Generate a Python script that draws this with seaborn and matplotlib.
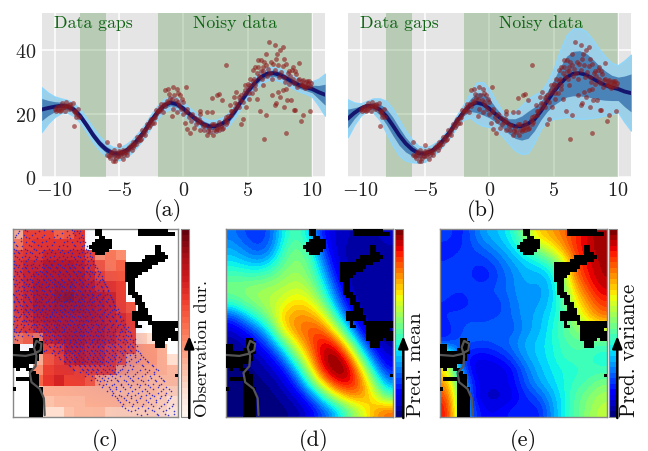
import matplotlib
matplotlib.use("Agg")
import matplotlib.pyplot as plt
import numpy as np
import pandas as pd
import seaborn as sns
from matplotlib.cm import ScalarMappable
from matplotlib.colors import LinearSegmentedColormap, ListedColormap, Normalize

# ---------- data ----------
grid_x = [-11, -10.5, -10, -9.5, -9, -8.5, -8, -7.5, -7, -6.5, -6, -5.5, -5, -4.5, -4, -3.5, -3, -2.5, -2, -1.5, -1, -.5,
          0, .5, 1, 1.5, 2, 2.5, 3, 3.5, 4, 4.5, 5, 5.5, 6, 6.5, 7, 7.5, 8, 8.5, 9, 9.5, 10, 10.5, 11]
mean_a = [21.3, 21.8, 22.2, 22.5, 22.3, 21.3, 19.2, 16.3, 13.2, 10.6, 8.7, 7.5, 7.3, 8.2, 9.7, 12, 14.6, 17.8, 20.5, 22.6, 23.5, 23,
          21.6, 19.8, 18.2, 16.8, 16, 16, 16.8, 18.2, 20.8, 24, 27, 29.5, 31.5, 32.6, 32.8, 32.3, 31.2, 30, 29, 28.3, 27.8, 26.8, 26]
sd2_a = [7, 4.8, 3.2, 2.3, 2, 2, 2.1, 2.2, 2.3, 2.2, 2.1, 2, 2, 2, 2, 2, 2, 2, 2, 2, 2, 2,
         2, 2, 2, 2, 2, 2, 2, 2, 2, 2, 2, 2, 2, 2, 2, 2, 2, 2, 2, 2, 2.4, 4.2, 6.6]
mean_b = [18.4, 20.2, 21.6, 22.5, 22.3, 21.3, 19.2, 16.3, 13.2, 10.6, 8.7, 7.5, 7.3, 8.2, 9.7, 12, 14.6, 17.8, 20.5, 22.6, 23.5, 23,
          21.6, 19.8, 18.2, 16.8, 16, 16, 16.8, 18.2, 20.8, 24, 27, 29.5, 31.5, 32.6, 32.8, 32.3, 31.2, 30, 29, 28.3, 27.8, 27, 26.5]
upper_b = [24.5, 23.5, 23.2, 24, 24.8, 24.8, 24, 21.5, 18, 14.5, 11.8, 9.8, 9.3, 10, 11.3, 13.6, 16.3, 19.6, 22.8, 26.5, 29.8, 30,
           27.8, 24, 20.8, 20, 20.8, 22.5, 24.7, 26, 27, 30, 34.2, 40, 44.8, 46.8, 47, 46, 43.5, 40.5, 38, 36, 35.3, 36.8, 38.6]
lower_b = [12.6, 16.5, 19.4, 20.8, 20.3, 18, 14, 10, 6.8, 5.2, 4.7, 4.5, 4.8, 6.4, 8, 10.3, 12.9, 16, 18.2, 18.8, 17.2, 16.2,
           15.8, 14.8, 13, 10.6, 8.4, 7.3, 7.6, 11, 15.3, 17.5, 18.4, 18.6, 19, 18.7, 18.4, 18.5, 18.7, 19, 19.5, 20, 20.5, 17.4, 14.7]

points_left = [(-10, 21.5), (-9.9, 21), (-9.8, 22), (-9.7, 21.3), (-9.6, 22.3), (-9.5, 21.2), (-9.4, 23.5), (-9.3, 22), (-9.2, 20.8),
               (-9.1, 23.8), (-9, 22.5), (-8.9, 21.5), (-8.8, 23), (-8.7, 22), (-8.6, 23.4), (-8.5, 21), (-8.4, 20.5), (-8.3, 20),
               (-8.3, 19), (-8.5, 16.2), (-8.2, 21.6), (-8.1, 19), (-9.4, 21.8), (-9.6, 21), (-9.2, 22.4), (-8.9, 22.8)]
points_mid = [(-5.9, 11), (-5.9, 7), (-5.8, 6.5), (-5.7, 6), (-5.6, 8), (-5.5, 5), (-5.4, 6.5), (-5.4, 8.5), (-5.3, 5), (-5.2, 7.5),
              (-5.1, 6.5), (-5, 8.2), (-5, 10), (-4.9, 6.5), (-4.8, 7.5), (-4.7, 5.7), (-4.6, 7), (-4.5, 8), (-4.4, 7), (-4.3, 9),
              (-4.2, 9.5), (-4, 8.5), (-3.9, 11), (-3.8, 10), (-3.7, 10.3), (-3.5, 11.5), (-3.4, 13), (-3.3, 12), (-3.1, 13.5),
              (-3, 14.5), (-2.9, 15.5), (-2.7, 15.7), (-2.6, 16.5), (-2.4, 17), (-2.3, 18.5), (-2.2, 19), (-2.1, 19.8), (-2, 20.7),
              (-5.6, 7.2), (-5.2, 6), (-4.7, 8.4), (-4.1, 10.2), (-3.6, 12.6), (-3.2, 14.8), (-2.8, 16.8), (-2.5, 18.2),
              (-4.9, 7.9), (-4.4, 8), (-3.9, 9.4), (-3.4, 11.6), (-3, 13.4), (-2.6, 17.6), (-2.3, 17.2), (-2.1, 21.2)]
points_noisy = [(-1.9, 21), (-1.8, 22), (-1.7, 21.5), (-1.6, 20.5), (-1.5, 23), (-1.4, 22.5), (-1.3, 24), (-1.4, 27.4), (-1.2, 27.7),
                (-.8, 28.4), (-.5, 27.7), (-.25, 25.8), (.2, 28.4), (-.1, 24.7), (-.8, 21.6), (-.9, 19.3), (-.5, 20.5), (0, 20),
                (.1, 17.2), (.3, 15.3), (.5, 14), (.8, 15.5), (1.3, 21), (1.3, 20), (1.8, 20.5), (2.2, 20.5), (2.2, 25), (2.6, 26),
                (2.8, 26.3), (3, 24.2), (3.3, 35.5), (1, 16.8), (1.3, 14.7), (1.8, 13.4), (2.3, 13.4), (2.8, 14.7), (3.3, 16.8),
                (3.7, 19.5), (4.1, 26.8), (3.9, 25.3), (3.6, 22.6), (4.6, 18.2), (4.5, 16.8), (4.9, 22),
                (-1.1, 26.3), (-1, 24.9), (-.7, 26), (-.6, 24.2), (-.4, 26.4), (-.3, 22.8), (0, 23.6), (.2, 20.4), (.4, 19),
                (.6, 17.6), (.9, 18.6), (1.1, 17.4), (1.5, 16.2), (1.6, 15), (1.9, 14.6), (2, 15.6), (2.1, 14.2), (2.4, 15),
                (2.5, 14.4), (2.7, 15.7), (2.9, 16.2), (3.1, 15.4), (3.2, 18), (3.4, 17.4), (3.5, 19.2), (3.8, 20.8), (4, 21.7),
                (4.2, 23.2), (4.3, 22.2), (4.4, 24.4), (4.6, 23.8), (4.7, 26.4), (4.8, 27.6), (5, 28.2), (5.1, 26.6), (5.2, 29),
                (6.65, 42.6), (7.1, 41.6), (7.7, 41), (7.5, 40), (7.3, 39), (6.4, 39), (5.8, 36.8), (6, 36.8), (6.3, 36.3), (6.8, 36.3),
                (7.2, 37.4), (7.85, 37.4), (7.35, 35.3), (8, 35.8), (8.95, 36.1), (5.55, 34.7), (5.8, 34.7), (6.2, 34.7), (6.6, 34.2),
                (7, 35.8), (5.4, 33.7), (8.5, 34.7), (8.4, 33.7), (8.75, 32.6), (9, 31), (9.3, 30.5), (8.5, 31), (8.2, 29.5),
                (6.25, 12.1), (7.95, 14), (9.1, 17.6), (9.3, 19.5), (9.85, 21), (8.7, 21.3), (8.6, 21.3), (7.85, 22.1), (8.35, 24.4),
                (8.05, 24.2), (7.1, 22.8), (7.2, 23.5), (7.5, 25.3), (6.85, 25.8), (7.35, 26.8), (7.75, 27.4), (5.95, 20.7), (6.45, 19.5),
                (5.7, 24.7), (5.3, 26.6), (5.1, 24.7), (5.6, 29.2), (5.5, 31), (5.9, 32), (6.1, 31), (6.2, 33.5), (6.5, 32),
                (6.9, 31), (7.1, 33.8), (7.6, 33.2), (7.8, 31.6), (8.1, 32.8), (8.6, 29.8), (8.9, 30.6), (9.1, 29.4), (9.2, 30.2),
                (9.4, 29.2), (9.5, 30), (9.6, 28.6), (9.7, 29.7), (9.8, 28.8), (9.9, 29.8), (9.75, 30.2), (9.45, 28.2),
                (5.6, 27.8), (6.2, 29), (7.9, 30), (8, 27.8), (8.8, 28.4),
                (-1.7, 23), (-1.2, 23.6), (-.9, 24.6), (-.4, 23.8), (-.2, 21.4), (.3, 21.6), (.7, 20), (1.2, 18.2), (1.4, 17.5),
                (1.7, 16.4), (2.2, 16.8), (2.4, 16.6), (2.6, 15.2), (2.8, 17.4), (3, 15.2), (3.3, 19), (3.7, 21), (4, 23.4), (4.3, 25.4),
                (4.5, 25.8), (4.8, 29), (5, 29.4), (5.2, 31), (5.4, 30.2), (5.7, 33), (6, 33.6), (6.4, 35.5), (6.7, 33), (7.4, 31.6),
                (7.7, 35), (8.2, 33.6), (8.3, 31.8), (8.7, 33.5), (9.2, 29), (9.6, 30.4), (9.3, 28.6)]

cell_vals = [
    [.30, .60, .62, .62, .50, .55, .65, 0, 0, 0, 0, 0, 0, 0, 0, 0],
    [.45, .60, .65, .65, .65, .65, .65, 0, 0, 0, 0, 0, 0, 0, 0, 0],
    [.62, .65, .65, .70, .70, .70, .70, .60, .40, .45, .40, 0, 0, 0, 0, 0],
    [.65, .70, .70, .75, .75, .75, .72, .68, .55, .45, .50, 0, 0, 0, 0, 0],
    [.65, .70, .72, .75, .78, .78, .75, .70, .60, .55, .55, 0, 0, 0, 0, 0],
    [.65, .70, .75, .78, .80, .80, .78, .72, .68, .65, .60, 0, 0, 0, 0, 0],
    [.65, .70, .75, .78, .82, .85, .80, .75, .72, .70, .62, 0, 0, 0, 0, 0],
    [.65, .70, .75, .78, .80, .80, .80, .75, .72, .70, .60, .55, 0, 0, 0, 0],
    [.62, .68, .72, .75, .78, .78, .78, .75, .72, .70, .68, .60, 0, 0, 0, 0],
    [.60, .65, .70, .72, .75, .75, .75, .72, .72, .70, .68, .62, 0, 0, 0, 0],
    [.45, .50, .45, .70, .72, .75, .75, .72, .72, .70, .65, .60, .20, .15, 0, 0],
    [0, 0, .30, .60, .65, .72, .72, .70, .70, .65, .60, .58, .35, .35, .30, 0],
    [0, 0, .30, .55, .62, .70, .72, .70, .70, .65, .58, .35, .35, .35, .30, .15],
    [0, 0, .40, .60, .65, .65, .62, .60, .60, .60, .35, .32, .32, .32, .30, .28],
    [0, 0, .50, .65, .70, .60, .60, .55, .35, .30, .30, .30, .30, .28, .28, .25],
    [0, 0, .20, .30, .30, .30, .30, .30, .30, .30, .28, .28, .25, .25, .22, .20],
    [0, 0, .20, .22, .25, .25, .25, .30, .30, .30, .30, .28, .25, .22, .20, .15],
    [0, 0, 0, .15, .15, .22, .25, .25, .25, .20, .20, .20, .20, .20, .18, .10],
]

mean_field = [
    [.25, .20, .17, .22, .38, .45, .35, .15, .08, .06, .05, .05, .08],
    [.30, .25, .20, .25, .42, .50, .42, .20, .08, .05, .04, .04, .05],
    [.36, .33, .30, .35, .47, .52, .47, .28, .10, .05, .04, .03, .04],
    [.45, .44, .44, .47, .52, .55, .50, .35, .15, .05, .03, .03, .03],
    [.50, .52, .54, .55, .57, .60, .56, .42, .22, .07, .03, .03, .03],
    [.42, .48, .53, .57, .62, .68, .65, .52, .30, .12, .04, .03, .03],
    [.20, .32, .42, .54, .70, .75, .75, .66, .44, .20, .06, .03, .03],
    [.08, .15, .25, .40, .66, .77, .82, .82, .62, .36, .12, .05, .03],
    [.03, .06, .13, .25, .44, .66, .80, .92, .87, .58, .28, .10, .04],
    [.02, .03, .06, .13, .27, .50, .72, .94, 1.0, .84, .47, .20, .08],
    [.01, .02, .03, .07, .14, .32, .58, .88, 1.0, .97, .70, .36, .15],
    [.01, .01, .02, .03, .08, .18, .40, .65, .87, .92, .80, .54, .28],
    [.01, .01, .01, .02, .04, .09, .20, .38, .58, .72, .76, .66, .46],
    [.01, .01, .01, .01, .02, .04, .10, .20, .30, .46, .58, .72, .80],
]

variance_field = [
    [.20, .15, .22, .30, .32, .38, .50, .68, .72, .78, .85, .92, .97],
    [.15, .17, .20, .23, .28, .33, .40, .50, .60, .72, .85, .92, .97],
    [.18, .20, .18, .18, .22, .28, .33, .36, .42, .55, .80, .90, .95],
    [.20, .20, .17, .14, .20, .25, .30, .30, .32, .50, .78, .88, .95],
    [.20, .18, .20, .20, .22, .25, .30, .28, .30, .45, .70, .82, .92],
    [.17, .14, .18, .20, .18, .24, .28, .28, .32, .42, .62, .75, .85],
    [.18, .20, .20, .18, .20, .23, .28, .30, .35, .42, .55, .68, .78],
    [.15, .20, .22, .23, .25, .20, .27, .30, .36, .45, .50, .55, .58],
    [.17, .22, .22, .20, .22, .25, .30, .33, .37, .42, .46, .45, .45],
    [.60, .20, .12, .12, .15, .20, .28, .33, .36, .42, .43, .42, .38],
    [.68, .30, .10, .08, .08, .12, .22, .30, .35, .38, .40, .42, .42],
    [.75, .45, .15, .10, .10, .12, .20, .28, .33, .38, .42, .45, .50],
    [.85, .50, .15, .07, .07, .09, .16, .20, .28, .36, .45, .50, .55],
    [.90, .52, .20, .12, .12, .16, .18, .14, .25, .36, .45, .52, .58],
]

# black terrain: row index -> (first column, end column) on a 50 x 57 cell map
terrain_runs = {
    0: [(25, 27), (38, 47)], 1: [(25, 27), (38, 49)], 2: [(26, 28)], 3: [(25, 30)], 4: [(24, 30)],
    5: [(23, 30), (43, 45)], 6: [(24, 29), (43, 45)], 7: [(25, 28), (43, 46)], 8: [(40, 47)], 9: [(39, 46)],
    10: [(34, 44)], 11: [(34, 42)], 12: [(34, 41)], 13: [(34, 39)], 14: [(34, 38)], 15: [(34, 37)],
    16: [(35, 37)], 17: [(35, 37)], 18: [(35, 37)], 19: [(35, 38)], 20: [(36, 39)], 21: [(37, 39)],
    22: [(37, 40)], 23: [(38, 40)], 24: [(38, 41)], 25: [(36, 41)], 26: [(36, 42)], 27: [(36, 42)],
    28: [(37, 38), (41, 50)], 29: [(37, 39), (42, 50)], 30: [(42, 49)], 31: [(42, 50)], 32: [(42, 50)],
    33: [(6, 8), (42, 47), (48, 50)], 34: [(6, 9), (43, 46)], 35: [(0, 2), (6, 9), (43, 46)], 36: [(0, 2), (5, 9)],
    37: [(0, 9)], 38: [(0, 8)], 39: [(0, 8)], 40: [(0, 7)], 41: [(0, 5)], 42: [(1, 2), (4, 6)], 43: [(5, 7)],
    44: [(5, 8), (49, 50)], 45: [(1, 8)], 46: [(5, 8)], 47: [(5, 8)], 48: [(0, 1), (5, 9)], 49: [(5, 9)],
    50: [(5, 9)], 51: [(5, 9)], 52: [(5, 9)], 53: [(5, 9)], 54: [(5, 9)], 55: [(5, 9)], 56: [(5, 9)],
}
river_x = [0, 8, 13, 17, 17.5, 14.5, 13, 14.5, 14, 10.5, 11.5, 16.5, 19, 19.5]
river_y = [67, 67.5, 66.5, 64.5, 61, 59.5, 63, 67.5, 73, 76.5, 81.5, 85, 90, 99]

# observation locations in panel (c), percent of panel width, by percent of panel height.
# The real cloud is far too dense to read dot by dot, so these are a thinner hand-estimated sample,
# and obs_density (read by eye) tints the areas where the dots merge together.
obs_rows = {
    1: [4, 9, 16, 24, 33, 37, 39, 41], 3: [2, 7, 12, 19, 27, 34, 38, 42], 5: [5, 10, 15, 22, 29, 35, 40, 43],
    7: [1, 8, 13, 18, 25, 31, 36, 41, 44], 9: [3, 6, 11, 17, 21, 28, 33, 38, 42, 45],
    11: [2, 5, 9, 14, 19, 24, 30, 35, 39, 43, 46], 13: [1, 4, 8, 12, 16, 21, 26, 31, 36, 40, 44, 47],
    15: [3, 6, 10, 15, 18, 23, 28, 33, 37, 41, 45, 48], 17: [1, 5, 8, 13, 17, 22, 25, 30, 34, 39, 42, 46, 49],
    19: [2, 4, 9, 11, 16, 20, 24, 29, 32, 36, 40, 44, 47, 50], 21: [1, 6, 8, 12, 15, 19, 23, 27, 31, 35, 38, 43, 46, 51],
    23: [3, 5, 10, 14, 18, 21, 26, 29, 33, 37, 41, 45, 48, 50, 53], 25: [1, 4, 7, 11, 13, 17, 20, 24, 28, 32, 35, 39, 42, 47, 52, 54],
    27: [2, 6, 9, 12, 16, 19, 23, 26, 30, 34, 37, 41, 44, 49, 53, 55], 29: [1, 3, 8, 10, 14, 18, 22, 25, 29, 33, 36, 40, 43, 46, 51, 56],
    31: [4, 7, 11, 13, 17, 20, 24, 28, 31, 35, 38, 42, 45, 48, 54, 57], 33: [2, 5, 9, 12, 15, 19, 23, 27, 30, 34, 37, 41, 44, 47, 50, 55, 58],
    35: [1, 6, 8, 13, 16, 21, 25, 29, 32, 36, 39, 43, 46, 49, 52, 56, 59], 37: [3, 5, 10, 14, 18, 22, 26, 28, 33, 35, 40, 42, 47, 51, 54, 58, 60],
    39: [1, 4, 7, 11, 15, 17, 20, 24, 27, 31, 34, 38, 41, 45, 48, 53, 57, 61], 41: [2, 6, 9, 13, 16, 19, 23, 26, 30, 33, 37, 40, 44, 50, 55, 59, 62],
    43: [1, 3, 8, 12, 14, 18, 22, 25, 29, 32, 36, 39, 43, 46, 49, 52, 56, 60, 63], 45: [5, 7, 10, 15, 17, 21, 24, 28, 31, 35, 38, 42, 47, 51, 54, 58, 62, 64],
    47: [2, 4, 9, 13, 16, 20, 23, 27, 30, 34, 37, 41, 44, 48, 53, 57, 61, 65], 49: [1, 6, 8, 11, 15, 19, 22, 26, 29, 33, 36, 40, 43, 46, 50, 55, 59, 63, 66],
    51: [3, 7, 12, 14, 18, 21, 25, 28, 32, 35, 39, 42, 45, 49, 52, 56, 60, 64, 67], 53: [1, 5, 10, 13, 17, 20, 24, 27, 31, 34, 38, 41, 44, 47, 51, 54, 58, 62, 66, 69],
    55: [2, 4, 8, 16, 19, 23, 26, 30, 33, 37, 40, 43, 46, 50, 53, 57, 61, 65, 68, 71], 57: [1, 6, 12, 18, 22, 25, 29, 32, 36, 39, 42, 45, 49, 52, 55, 59, 63, 67, 70, 72],
    59: [3, 20, 24, 28, 31, 35, 38, 41, 44, 48, 51, 54, 58, 61, 65, 69, 73], 61: [1, 18, 21, 26, 30, 34, 37, 40, 43, 47, 50, 53, 56, 60, 64, 68, 71, 74],
    63: [17, 23, 27, 29, 33, 36, 39, 42, 46, 49, 52, 55, 59, 62, 66, 70, 73], 65: [19, 25, 28, 32, 35, 38, 41, 45, 48, 51, 54, 57, 61, 65, 68, 72, 76],
    67: [26, 31, 34, 37, 40, 44, 47, 50, 53, 56, 60, 63, 67, 71, 74, 78], 69: [29, 33, 36, 39, 43, 46, 49, 52, 55, 59, 62, 66, 72, 77, 80],
    71: [32, 35, 38, 42, 45, 48, 51, 54, 58, 64, 69, 75, 82], 73: [35, 41, 44, 47, 50, 53, 57, 61, 67, 73, 79, 85],
    75: [37, 43, 46, 49, 52, 56, 60, 65, 70, 77, 83, 88], 77: [46, 51, 55, 59, 63, 68, 74, 80, 86], 79: [50, 54, 58, 62, 71, 76, 84, 90],
    81: [53, 57, 64, 69, 73, 79, 87, 92], 83: [55, 60, 66, 72, 77, 82, 89], 85: [59, 63, 68, 74, 80, 85, 91, 95],
    87: [61, 70, 76, 83, 88, 93], 89: [62, 66, 72, 78, 86, 90, 96], 91: [64, 69, 75, 81, 87, 94], 93: [67, 73, 79, 84, 92, 97],
    95: [68, 76, 82, 89, 95], 97: [72, 80, 86, 91, 98], 99: [78, 88, 94],
}
obs_rows_more = {
    .6: [7.4, 19.3, 35.8], 2.3: [3.1, 13.7, 30.2, 36.4, 40.6], 4.4: [1.3, 8.2, 17.6, 25.1, 32.8, 41.7], 6.2: [4.9, 11.7, 20.4, 33.3, 38.9, 42.6],
    8.3: [2.2, 9.8, 15.4, 23.7, 30.6, 37.1, 43.2], 10.4: [.7, 7.3, 12.8, 22.1, 27.4, 36.9, 41.3, 44.8], 12.1: [3.3, 10.6, 17.8, 23.2, 28.6, 33.5, 42.2, 45.3],
    14.3: [1.6, 7.4, 13.7, 19.9, 25.3, 30.4, 35.2, 39.6, 43.3, 46.7], 16.2: [4.1, 9.2, 14.3, 20.8, 26.7, 32.1, 37.9, 43.8, 47.5], 18.4: [.9, 6.7, 12.4, 18.6, 23.3, 27.8, 33.4, 38.2, 41.6, 45.2, 48.6],
    20.1: [3.2, 7.6, 13.4, 17.7, 21.6, 26.1, 30.3, 34.2, 37.3, 42.1, 45.6, 49.7], 22.3: [1.7, 4.4, 9.3, 16.4, 20.2, 24.6, 28.1, 32.4, 36.6, 39.7, 44.4, 47.2, 51.8],
    24.2: [2.6, 6.1, 12.3, 15.2, 19.1, 22.7, 27.3, 30.8, 34.1, 38.3, 43.6, 46.3, 49.4, 52.7], 26.4: [.4, 5.3, 8.7, 10.4, 14.6, 18.2, 21.7, 25.4, 29.2, 33.6, 36.4, 40.2, 45.7, 50.6, 54.3],
    28.1: [3.7, 7.2, 11.6, 15.7, 20.3, 23.8, 27.6, 31.4, 35.3, 38.6, 42.4, 47.7, 52.3, 55.7], 30.3: [1.8, 5.6, 9.3, 12.6, 16.3, 21.4, 26.2, 30.1, 34.7, 37.2, 41.3, 44.6, 49.2, 53.6, 56.8],
    32.2: [3.4, 6.7, 10.7, 14.2, 17.7, 22.3, 25.6, 29.4, 32.7, 36.3, 39.4, 43.7, 46.2, 51.7, 54.6, 57.6], 34.4: [.6, 4.2, 7.3, 11.4, 14.8, 18.3, 20.4, 24.1, 28.2, 31.6, 35.4, 38.2, 42.1, 45.3, 48.4, 53.2, 57.3],
    36.1: [2.4, 7.7, 9.6, 12.3, 17.1, 19.6, 23.2, 27.4, 30.6, 34.3, 37.6, 41.4, 44.2, 48.3, 50.7, 55.1, 59.6], 38.3: [1.2, 3.6, 6.4, 10.8, 13.7, 16.2, 21.3, 25.2, 29.3, 32.4, 36.2, 39.6, 43.2, 46.6, 49.6, 52.4, 56.7, 60.8],
    40.2: [4.8, 8.3, 12.2, 14.4, 18.4, 22.2, 25.7, 28.6, 32.1, 35.6, 38.7, 42.3, 45.7, 47.4, 51.6, 54.2, 58.3, 61.7], 42.4: [1.4, 5.2, 7.4, 10.6, 15.3, 17.6, 20.6, 24.3, 27.2, 31.3, 34.6, 37.4, 41.2, 44.7, 48.2, 53.3, 57.4, 61.4, 63.7],
    44.1: [3.2, 6.2, 9.4, 13.2, 16.7, 19.4, 23.7, 26.4, 30.2, 33.8, 36.7, 40.6, 43.8, 46.2, 50.3, 55.7, 59.2, 64.4], 46.3: [.8, 4.4, 8.2, 11.4, 14.6, 18.3, 22.6, 25.3, 29.6, 32.6, 36.2, 39.4, 42.8, 45.4, 49.7, 52.2, 56.4, 60.3, 65.3],
    48.2: [2.7, 7.2, 10.3, 12.7, 17.2, 21.2, 24.4, 27.8, 31.7, 34.7, 38.3, 41.6, 44.3, 47.6, 51.4, 54.3, 58.2, 62.6, 66.7], 50.4: [.5, 5.1, 9.4, 13.3, 16.3, 20.3, 23.6, 27.1, 30.4, 33.6, 37.2, 40.4, 43.4, 47.3, 50.6, 53.7, 57.3, 61.2, 65.4, 68.2],
    52.1: [2.3, 6.3, 11.3, 15.1, 19.2, 22.3, 26.2, 29.7, 32.4, 36.4, 39.7, 42.6, 45.7, 48.2, 52.3, 55.3, 59.6, 63.3, 67.4, 69.8], 54.3: [1.2, 4.6, 7.7, 14.3, 17.3, 21.6, 24.7, 28.2, 31.3, 35.4, 38.6, 41.3, 44.4, 47.8, 51.7, 54.8, 58.7, 62.1, 66.2, 70.2],
    56.2: [3.4, 9.6, 16.7, 20.6, 24.2, 27.4, 30.7, 34.2, 37.6, 40.8, 43.6, 47.2, 50.4, 53.6, 57.2, 60.7, 64.3, 68.7, 71.6], 58.4: [1.6, 18.3, 22.7, 26.3, 29.6, 33.3, 36.7, 39.4, 42.7, 46.3, 49.4, 52.7, 56.2, 59.6, 63.7, 67.3, 71.2, 74.3],
    60.2: [19.7, 23.4, 27.3, 31.2, 34.7, 38.3, 41.6, 44.6, 48.3, 51.3, 55.2, 58.4, 62.4, 66.7, 69.4, 72.8], 62.3: [16.6, 22.3, 25.2, 28.7, 32.4, 35.6, 38.4, 41.2, 45.2, 48.6, 51.7, 54.3, 57.6, 61.3, 65.2, 69.7, 72.3, 75.6],
    64.1: [20.3, 24.4, 30.3, 33.7, 37.2, 40.6, 43.4, 47.3, 50.2, 53.3, 56.4, 60.3, 63.6, 67.4, 71.3, 74.6], 66.2: [24.2, 27.6, 32.6, 36.2, 39.7, 42.7, 46.2, 49.4, 52.6, 55.2, 58.6, 62.3, 66.3, 69.6, 73.2, 77.4],
    68.3: [28.4, 32.2, 35.3, 38.4, 41.7, 45.3, 48.6, 51.4, 54.4, 57.7, 61.4, 64.7, 68.7, 74.3, 79.2], 70.1: [31.2, 34.4, 37.2, 40.4, 44.2, 47.4, 50.3, 53.2, 56.4, 60.2, 65.3, 70.4, 76.2, 81.3],
    72.2: [34.2, 37.7, 40.3, 43.2, 46.6, 49.4, 52.2, 55.6, 59.3, 63.3, 68.4, 71.4, 78.2, 84.4], 74.3: [36.4, 42.3, 45.4, 48.3, 51.2, 54.7, 58.4, 62.4, 66.3, 72.2, 80.6, 87.2],
    76.1: [41.2, 44.7, 47.6, 50.7, 53.8, 57.3, 61.6, 64.2, 69.3, 75.4, 81.7, 85.6], 78.4: [44.2, 48.3, 52.4, 56.3, 60.4, 65.2, 69.7, 73.3, 78.6, 83.2, 88.7], 80.2: [47.3, 51.2, 55.7, 59.4, 63.3, 67.4, 72.2, 77.7, 82.4, 86.3, 91.2],
    82.3: [52.3, 56.4, 61.4, 65.7, 70.2, 75.3, 80.3, 85.4, 90.2], 84.1: [54.2, 58.3, 62.6, 67.2, 71.4, 76.6, 83.3, 88.2, 93.3], 86.2: [57.4, 60.6, 65.4, 72.6, 78.3, 81.4, 90.2, 96.3],
    88.4: [60.3, 64.7, 69.3, 74.4, 80.7, 84.6, 92.4], 90.1: [63.2, 67.4, 71.6, 77.3, 83.2, 89.6, 95.2], 92.2: [65.3, 70.7, 75.6, 82.2, 86.7, 93.7], 94.3: [66.6, 72.3, 78.4, 85.2, 90.3, 96.8],
    96.1: [69.7, 74.3, 80.2, 84.7, 93.3], 98.2: [75.2, 81.4, 87.3, 92.6, 97.6],
}
obs_density = [
    [.20, .20, .20, .20, 0, 0, 0, 0],
    [.45, .50, .50, .50, .20, 0, 0, 0],
    [.55, .70, .80, .80, .50, 0, 0, 0],
    [.55, .75, .90, .90, .80, .30, 0, 0],
    [.40, .60, .85, .95, .90, .60, 0, 0],
    [0, .10, .50, .80, .90, .80, .20, 0],
    [0, 0, .05, .20, .35, .30, .20, .10],
    [0, 0, 0, 0, .05, .15, .15, .10],
]

caption_labels = ["(a)", "(b)", "(c)", "(d)", "(e)"]
bar_labels = ["Observation dur.", "Pred. mean", "Pred. variance"]
bar_label_sizes = [13.4, 15, 15.2]

# ---------- figure ----------
sns.set_theme(style="white")
plt.rcParams["font.family"] = ["cmr10", "DejaVu Serif"]
plt.rcParams["mathtext.fontset"] = "cm"
plt.rcParams["axes.unicode_minus"] = False

W, H = 648, 452
fig = plt.figure(figsize=(W / 100, H / 100), dpi=100, facecolor="white")


def box(x0, y0, x1, y1):
    return [x0 / W, 1 - y1 / H, (x1 - x0) / W, (y1 - y0) / H]


all_points = pd.DataFrame(points_left + points_mid + points_noisy, columns=["x", "y"])
GREEN = "#0F6414"
FS = 15


def gp_panel(rect, mean, low, high, show_y):
    ax = fig.add_axes(box(*rect))
    ax.set_facecolor("#E5E5E5")
    ax.set_xlim(-11, 11)
    ax.set_ylim(0, 51.8)
    ax.grid(True, color="white", lw=1.1, zorder=1)
    ax.set_axisbelow(True)
    for a, b in [(-8, -6), (-2, 10)]:
        ax.axvspan(a, b, color="#538F46", alpha=0.3, lw=0, zorder=1.5)
    mean, low, high = map(np.asarray, (mean, low, high))
    ax.fill_between(grid_x, low, high, facecolor="#9CD0E8", edgecolor="#8FD6FA", lw=1.1, zorder=2)
    ax.fill_between(grid_x, (low + mean) / 2, (high + mean) / 2, color="#4A83B8", lw=0, zorder=2.1)
    sns.lineplot(x=grid_x, y=mean, ax=ax, color="#15156E", lw=2.8, zorder=3, estimator=None, sort=False)
    sns.scatterplot(data=all_points, x="x", y="y", ax=ax, color="#8B1A1A", s=12, alpha=0.6, linewidth=0, zorder=4)
    ax.set_xlabel("")
    ax.set_ylabel("")
    ax.set_xticks([-10, -5, 0, 5, 10])
    ax.set_xticklabels(["$-10$", "$-5$", "$0$", "$5$", "$10$"], fontsize=14.5)
    ax.set_yticks([0, 20, 40])
    ax.set_yticklabels(["$0$", "$20$", "$40$"] if show_y else [], fontsize=14.5)
    ax.tick_params(axis="x", direction="in", length=8, width=0.9, color="#444444", pad=3, labelcolor="#222222")
    ax.tick_params(axis="y", direction="in", length=6.5, width=0.9, color="#444444", pad=4, labelcolor="#222222")
    if not show_y:
        ax.tick_params(axis="y", labelleft=False)
    for s in ax.spines.values():
        s.set_visible(False)
    ax.text(-7, 49, "Data gaps", color=GREEN, fontsize=12.8, ha="center", va="center", zorder=5)
    ax.text(4, 49, "Noisy data", color=GREEN, fontsize=12.8, ha="center", va="center", zorder=5)


gp_panel((41.7, 14, 325, 178), mean_a, np.array(mean_a) - np.array(sd2_a), np.array(mean_a) + np.array(sd2_a), True)
gp_panel((347.7, 14, 631, 178), mean_b, lower_b, upper_b, False)

terrain = np.full((57, 50), np.nan)
for row, runs in terrain_runs.items():
    for a, b in runs:
        terrain[row, a:b] = 1

reds = plt.get_cmap("Reds", 32)
jet = plt.get_cmap("jet", 34)
black = ListedColormap(["black"])
blue_tint = LinearSegmentedColormap.from_list("tint", [(.16, .16, .85, 0), (.16, .16, .85, .2)])


def overlay(ax):
    ax.imshow(terrain, cmap=black, extent=(0, 100, 100, 0), aspect="auto", interpolation="nearest", zorder=5)
    ax.plot(river_x, river_y, color="#555555", lw=1.6, zorder=6)
    ax.set_xlim(0, 100)
    ax.set_ylim(100, 0)
    ax.set_xticks([])
    ax.set_yticks([])
    for s in ax.spines.values():
        s.set_color("#888888")
        s.set_linewidth(1.0)
        s.set_visible(True)


def colorbar(rect, cmap, label, label_size, label_x, label_y_bottom):
    cax = fig.add_axes(box(*rect))
    cb = fig.colorbar(ScalarMappable(Normalize(0, 1), cmap), cax=cax)
    cb.set_ticks([])
    cb.outline.set_edgecolor("#888888")
    cb.outline.set_linewidth(0.8)
    xa = rect[2]
    fig.add_artist(plt.Annotation("", xy=(xa / W, 1 - 337 / H), xytext=(xa / W, 1 - 419 / H), xycoords="figure fraction",
                                  textcoords="figure fraction",
                                  arrowprops=dict(arrowstyle="-|>,head_width=0.24,head_length=0.6", color="black", lw=1.8,
                                                  shrinkA=0, shrinkB=0)))
    fig.text(label_x / W, 1 - label_y_bottom / H, label, rotation=90, ha="center", va="bottom", fontsize=label_size, color="#111111")


# (c)
rect_c = (12.5, 230, 177.5, 418)
ax_c = fig.add_axes(box(*rect_c))
vals = np.array(cell_vals)
sns.heatmap(vals, ax=ax_c, cmap=reds, vmin=0, vmax=1, cbar=False, mask=vals == 0, xticklabels=False, yticklabels=False, linewidths=0)
ov = fig.add_axes(box(*rect_c))
ov.patch.set_alpha(0)
ov.imshow(obs_density, cmap=blue_tint, vmin=0, vmax=1, extent=(0, 100, 100, 0), aspect="auto", interpolation="bilinear", zorder=1)
overlay(ov)
ox = [x for rows in (obs_rows, obs_rows_more) for y, xs in rows.items() for x in xs]
oy = [y for rows in (obs_rows, obs_rows_more) for y, xs in rows.items() for x in xs]
sns.scatterplot(x=ox, y=oy, ax=ov, color="#2424C8", s=1.3, linewidth=0, alpha=0.9, zorder=4)
colorbar((180.7, 230, 189.3, 418), reds, bar_labels[0], bar_label_sizes[0], 202, 417)

# (d)
rect_d = (226, 230, 392.7, 418)
ax_d = fig.add_axes(box(*rect_d))
ax_d.imshow(mean_field, cmap=jet, vmin=0, vmax=1, extent=(0, 100, 100, 0), aspect="auto", interpolation="bicubic", zorder=1)
overlay(ax_d)
colorbar((395, 230, 403.3, 418), jet, bar_labels[1], bar_label_sizes[1], 416, 417)

# (e)
rect_e = (440, 230, 606.7, 418)
ax_e = fig.add_axes(box(*rect_e))
ax_e.imshow(variance_field, cmap=jet, vmin=0, vmax=1, extent=(0, 100, 100, 0), aspect="auto", interpolation="bicubic", zorder=1)
overlay(ax_e)
colorbar((609, 230, 617.3, 418), jet, bar_labels[2], bar_label_sizes[2], 629, 417)

for label, (cx, cy) in zip(caption_labels, [(168, 211), (482, 211), (105, 441), (314, 441), (523, 441)]):
    fig.text(cx / W, 1 - cy / H, label, ha="center", va="center", fontsize=FS + 1, color="#111111")

fig.savefig("out.png", dpi=100)
